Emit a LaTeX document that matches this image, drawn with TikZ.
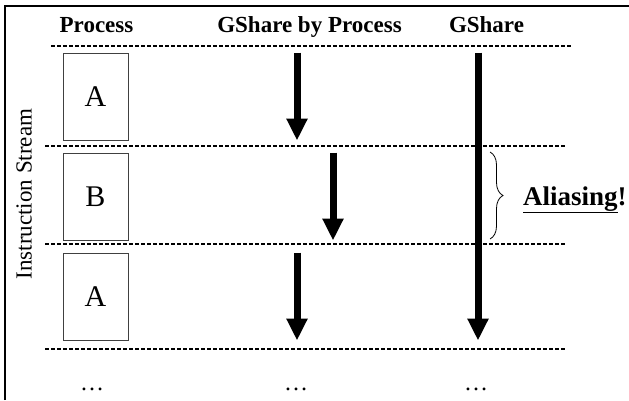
\documentclass[tikz,border=0pt]{standalone}
\usepackage{fontspec}
\setmainfont{Liberation Serif}
\usetikzlibrary{positioning,arrows.meta,decorations.pathreplacing}
\tikzset{>=latex}
\tikzset{
  head/.style={font=\fontsize{23}{27}\selectfont\bfseries, anchor=base},
  procbox/.style={draw=black!75, line width=1pt, minimum width=65pt,
    minimum height=87pt, inner sep=0pt, font=\fontsize{30}{34}\selectfont},
  sep/.style={line width=2pt, dash pattern=on 4pt off 2pt},
  flow/.style={line width=7pt, -{Triangle[width=20pt,length=22pt]}},
  more/.style={font=\fontsize{24}{28}\selectfont, anchor=base}
}
\begin{document}
\begin{tikzpicture}[x=1pt,y=-1pt]
  \useasboundingbox (0,0) rectangle (629,400);

  % Frame
  \draw[line width=2.5pt] (5,400) -- (5,6) -- (629,6);

  % Headers
  \node[head] (hproc)  at (96.5,32)  {Process};
  \node[head] (hgbp)   at (309.5,32) {GShare by Process};
  \node[head] (hgs)    at (486.5,32) {GShare};

  % Separators
  \draw[sep] (51,46)  -- (572,46);
  \draw[sep] (45,146) -- (566,146);
  \draw[sep] (45,244) -- (566,244);
  \draw[sep] (45,349) -- (566,349);

  % Processes
  \node[procbox]                  (boxA1) at (95.5,96.5) {A};
  \node[procbox, below=12pt of boxA1] (boxB)  {B};
  \node[procbox, below=12pt of boxB]  (boxA2) {A};

  \node[rotate=90, font=\fontsize{23}{27}\selectfont] (stream) at (24,194)
    {Instruction Stream};

  % Columns
  \coordinate (colP)  at (297,0);
  \coordinate (colPB) at (333,0);
  \coordinate (colG)  at (478,0);

  % Arrows
  \draw[flow] (colP |- boxA1.north)  -- (colP |- boxA1.south);
  \draw[flow] (colPB |- boxB.north)  -- (colPB |- boxB.south);
  \draw[flow] (colP |- boxA2.north)  -- (colP |- boxA2.south);
  \draw[flow] (colG |- boxA1.north)  -- (colG |- boxA2.south);

  % Aliasing
  \coordinate (btop) at (490,152);
  \coordinate (bbot) at (490,239);
  \draw[line width=0.8pt, decorate, decoration={brace, amplitude=13pt}]
    (btop) -- (bbot);
  \node[anchor=base west, inner sep=0pt, font=\fontsize{27}{31}\selectfont\bfseries]
    (alias) at (523,205) {\underline{Aliasing}!};

  % Continuation
  \node[more] (dots1) at (92,390)  {…};
  \node[more] (dots2) at (296,390) {…};
  \node[more] (dots3) at (476,390) {…};

\end{tikzpicture}
\end{document}
